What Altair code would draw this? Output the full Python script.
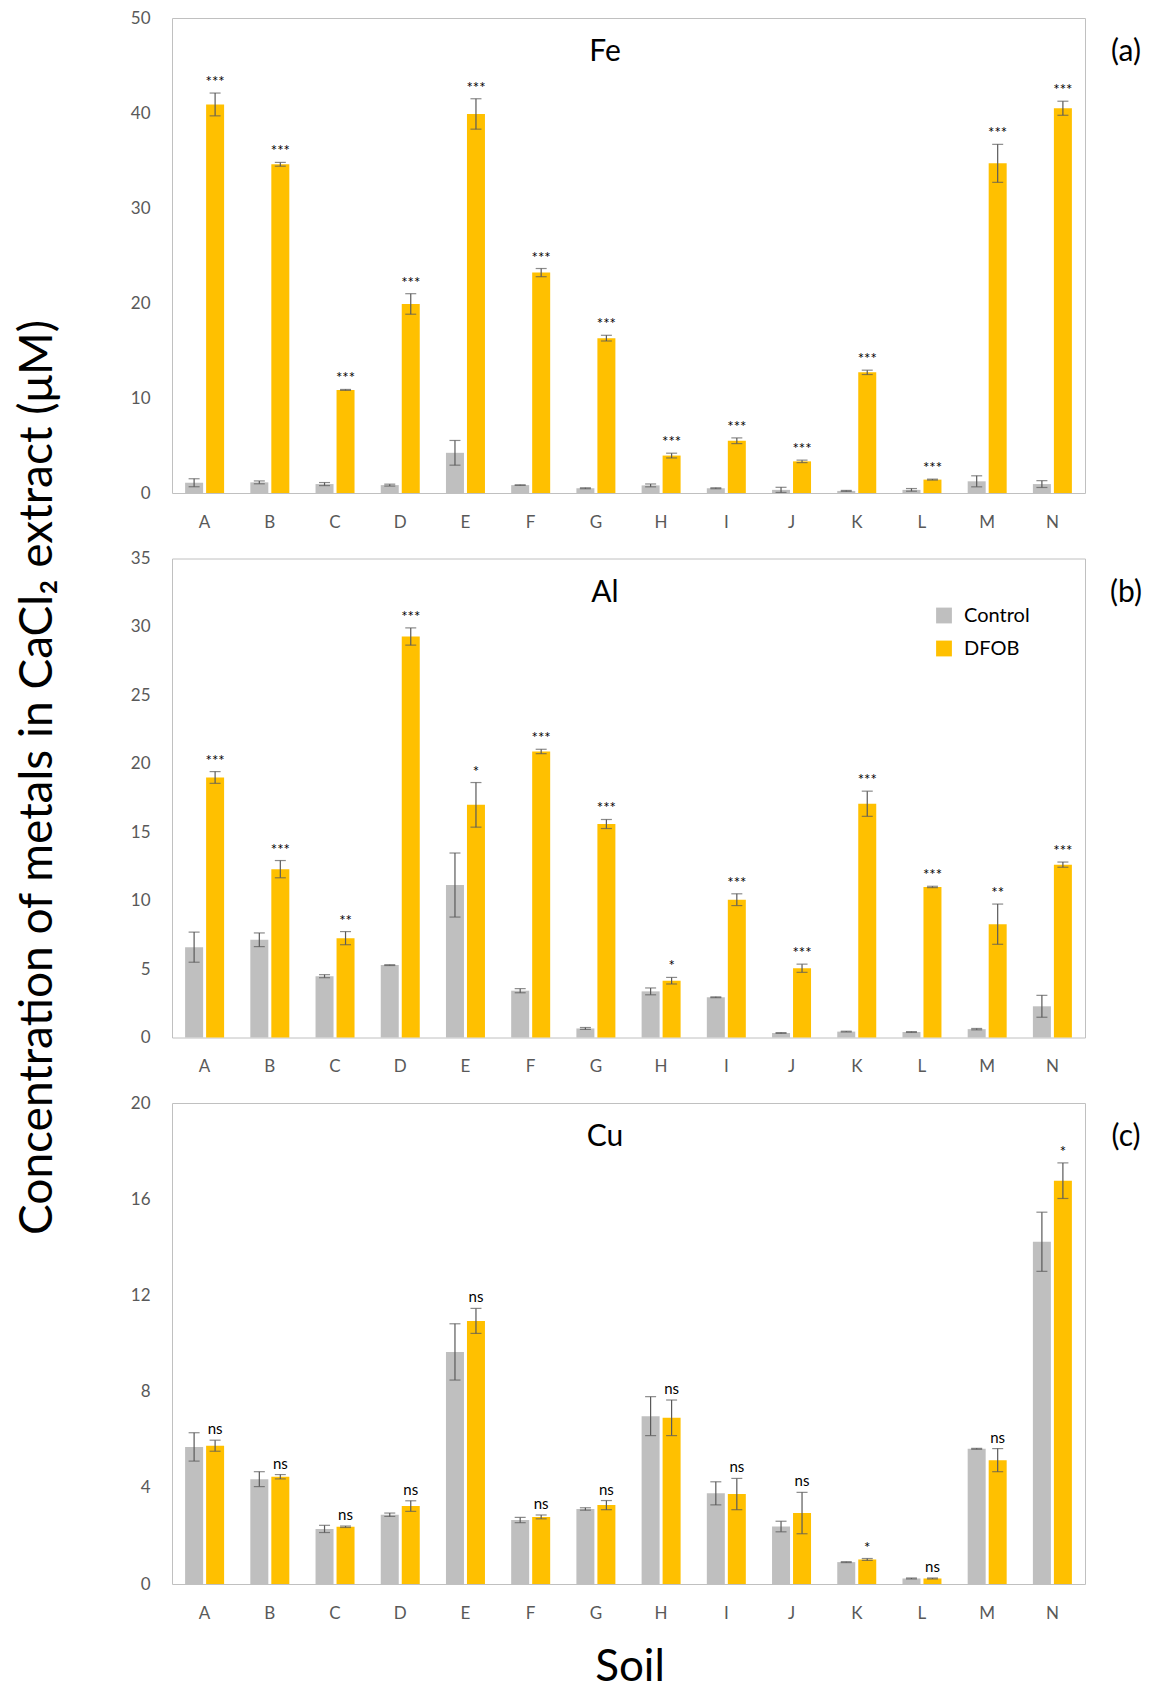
import altair as alt
import pandas as pd

soils = list("ABCDEFGHIJKLMN")
groups = ["Control", "DFOB"]
group_colors = ["#BFBFBF", "#FFC000"]

fe_control = [1.08, 1.12, 0.94, 0.83, 4.23, 0.83, 0.50, 0.80, 0.50, 0.33, 0.22, 0.33, 1.23, 0.94]
fe_control_err = [0.42, 0.15, 0.16, 0.10, 1.30, 0.03, 0.05, 0.15, 0.05, 0.27, 0.05, 0.14, 0.58, 0.36]
fe_dfob = [40.9, 34.6, 10.85, 19.9, 39.9, 23.2, 16.3, 3.94, 5.5, 3.33, 12.7, 1.41, 34.7, 40.5]
fe_dfob_err = [1.2, 0.2, 0.05, 1.08, 1.6, 0.43, 0.3, 0.25, 0.3, 0.13, 0.23, 0.05, 2.0, 0.74]
fe_sig = ["***"] * 14

al_control = [6.6, 7.14, 4.48, 5.29, 11.14, 3.42, 0.66, 3.37, 2.94, 0.33, 0.43, 0.40, 0.61, 2.28]
al_control_err = [1.1, 0.5, 0.11, 0.03, 2.34, 0.15, 0.07, 0.25, 0.03, 0.03, 0.03, 0.03, 0.05, 0.8]
al_dfob = [19.0, 12.3, 7.26, 29.3, 17.0, 20.9, 15.6, 4.15, 10.07, 5.06, 17.08, 11.0, 8.28, 12.63]
al_dfob_err = [0.43, 0.63, 0.48, 0.63, 1.63, 0.16, 0.33, 0.24, 0.43, 0.3, 0.92, 0.05, 1.47, 0.19]
al_sig = ["***", "***", "**", "***", "*", "***", "***", "*", "***", "***", "***", "***", "**", "***"]

cu_control = [5.70, 4.36, 2.29, 2.88, 9.65, 2.66, 3.12, 6.98, 3.77, 2.39, 0.91, 0.23, 5.62, 14.23]
cu_control_err = [0.59, 0.31, 0.15, 0.07, 1.17, 0.11, 0.05, 0.81, 0.48, 0.22, 0.02, 0.02, 0.02, 1.23]
cu_dfob = [5.75, 4.46, 2.38, 3.24, 10.94, 2.79, 3.28, 6.91, 3.74, 2.95, 1.02, 0.23, 5.15, 16.77]
cu_dfob_err = [0.23, 0.09, 0.03, 0.22, 0.52, 0.08, 0.19, 0.74, 0.65, 0.86, 0.04, 0.02, 0.48, 0.74]
cu_sig = ["ns", "ns", "ns", "ns", "ns", "ns", "ns", "ns", "ns", "ns", "*", "ns", "ns", "*"]

y_title = "Concentration of metals in CaCl\u2082 extract (\u03bcM)"
x_title = "Soil"

FONT = "Lato"
W = 913
AXIS_GREY = "#595959"


def build_df(ctrl, ctrl_err, dfob, dfob_err, sig):
    rows = []
    for i, s in enumerate(soils):
        rows.append(dict(soil=s, group="Control", value=ctrl[i],
                         lo=max(ctrl[i] - ctrl_err[i], 0), hi=ctrl[i] + ctrl_err[i], sig=""))
        rows.append(dict(soil=s, group="DFOB", value=dfob[i],
                         lo=max(dfob[i] - dfob_err[i], 0), hi=dfob[i] + dfob_err[i], sig=sig[i]))
    return pd.DataFrame(rows)


def panel(metal, tag, ctrl, ctrl_err, dfob, dfob_err, sig, ymax, ystep, height,
          show_legend=False, extra=None):
    df = build_df(ctrl, ctrl_err, dfob, dfob_err, sig)
    base = alt.Chart(df)
    xenc = alt.X("soil:N", sort=soils,
                 scale=alt.Scale(paddingInner=0.356, paddingOuter=0.178),
                 axis=alt.Axis(title=None, labelAngle=0, ticks=False, domain=False,
                               labelPadding=21, labelFontSize=17, labelColor=AXIS_GREY,
                               labelFont=FONT))
    xoff = alt.XOffset("group:N", sort=groups,
                       scale=alt.Scale(paddingInner=0, paddingOuter=0))
    yscale = alt.Scale(domain=[0, ymax], nice=False)
    yaxis = alt.Axis(title=None, values=list(range(0, ymax + 1, ystep)), grid=False,
                     ticks=False, domain=False, labelPadding=22, labelFontSize=17,
                     labelColor=AXIS_GREY, labelFont=FONT)

    def yenc(field):
        return alt.Y(f"{field}:Q", scale=yscale, axis=yaxis)

    if show_legend:
        leg = alt.Legend(title=None, orient="none", legendX=762, legendY=47,
                         symbolType="square", symbolSize=250, symbolStrokeWidth=0,
                         labelFontSize=20, labelFont=FONT, labelColor="#000000",
                         labelOffset=10, rowPadding=13, padding=0)
    else:
        leg = None
    color = alt.Color("group:N", scale=alt.Scale(domain=groups, range=group_colors),
                      legend=leg)

    bars = base.mark_bar(width=18).encode(x=xenc, xOffset=xoff, y=yenc("value"), color=color)
    rule = base.mark_rule(color="#5A5A5A", strokeWidth=1.2).encode(
        x=xenc, xOffset=xoff, y=yenc("lo"), y2="hi:Q")
    cap_lo = base.mark_tick(color="#5A5A5A", size=11, thickness=1.2).encode(
        x=xenc, xOffset=xoff, y=yenc("lo"))
    cap_hi = base.mark_tick(color="#5A5A5A", size=11, thickness=1.2).encode(
        x=xenc, xOffset=xoff, y=yenc("hi"))
    sig_text = base.transform_filter(alt.datum.group == "DFOB").mark_text(
        baseline="alphabetic", dy=-6, font=FONT, color="#000000", fontSize=15).encode(
        x=xenc, xOffset=xoff, y=yenc("hi"), text="sig:N")
    title = alt.Chart(pd.DataFrame({"t": [metal]})).mark_text(
        font=FONT, fontSize=30, color="#000000", align="center", baseline="middle").encode(
        text="t:N", x=alt.value(433), y=alt.value(34))
    tag_text = alt.Chart(pd.DataFrame({"t": [tag]})).mark_text(
        font=FONT, fontSize=30, color="#000000", align="center", baseline="middle").encode(
        text="t:N", x=alt.value(954), y=alt.value(34))
    layers = [bars, rule, cap_lo, cap_hi, sig_text, title, tag_text]
    if extra:
        layers += extra
    return alt.layer(*layers).properties(width=W, height=height)


ytitle_mark = alt.Chart(pd.DataFrame({"t": [y_title]})).mark_text(
    font=FONT, fontSize=46, color="#000000", align="center", baseline="middle", angle=270).encode(
    text="t:N", x=alt.value(-134), y=alt.value(219))

xtitle_mark = alt.Chart(pd.DataFrame({"t": [x_title]})).mark_text(
    font=FONT, fontSize=44, color="#000000", align="center", baseline="middle").encode(
    text="t:N", x=alt.value(458), y=alt.value(565))

fe = panel("Fe", "(a)", fe_control, fe_control_err, fe_dfob, fe_dfob_err, fe_sig, 50, 10, 475)
al = panel("Al", "(b)", al_control, al_control_err, al_dfob, al_dfob_err, al_sig, 35, 5, 479,
           show_legend=True, extra=[ytitle_mark])
cu = panel("Cu", "(c)", cu_control, cu_control_err, cu_dfob, cu_dfob_err, cu_sig, 20, 4, 481,
           extra=[xtitle_mark])

chart = alt.vconcat(fe, al, cu, spacing=65.5, bounds="flush").resolve_legend(
    color="independent").properties(
    padding={"left": 6, "top": 0, "right": 5, "bottom": 0}
).configure_view(stroke="#C0C0C0", strokeWidth=1).configure_axis(labelFont=FONT)

chart.save("out.html", embed_options={"renderer": "svg", "actions": False})
